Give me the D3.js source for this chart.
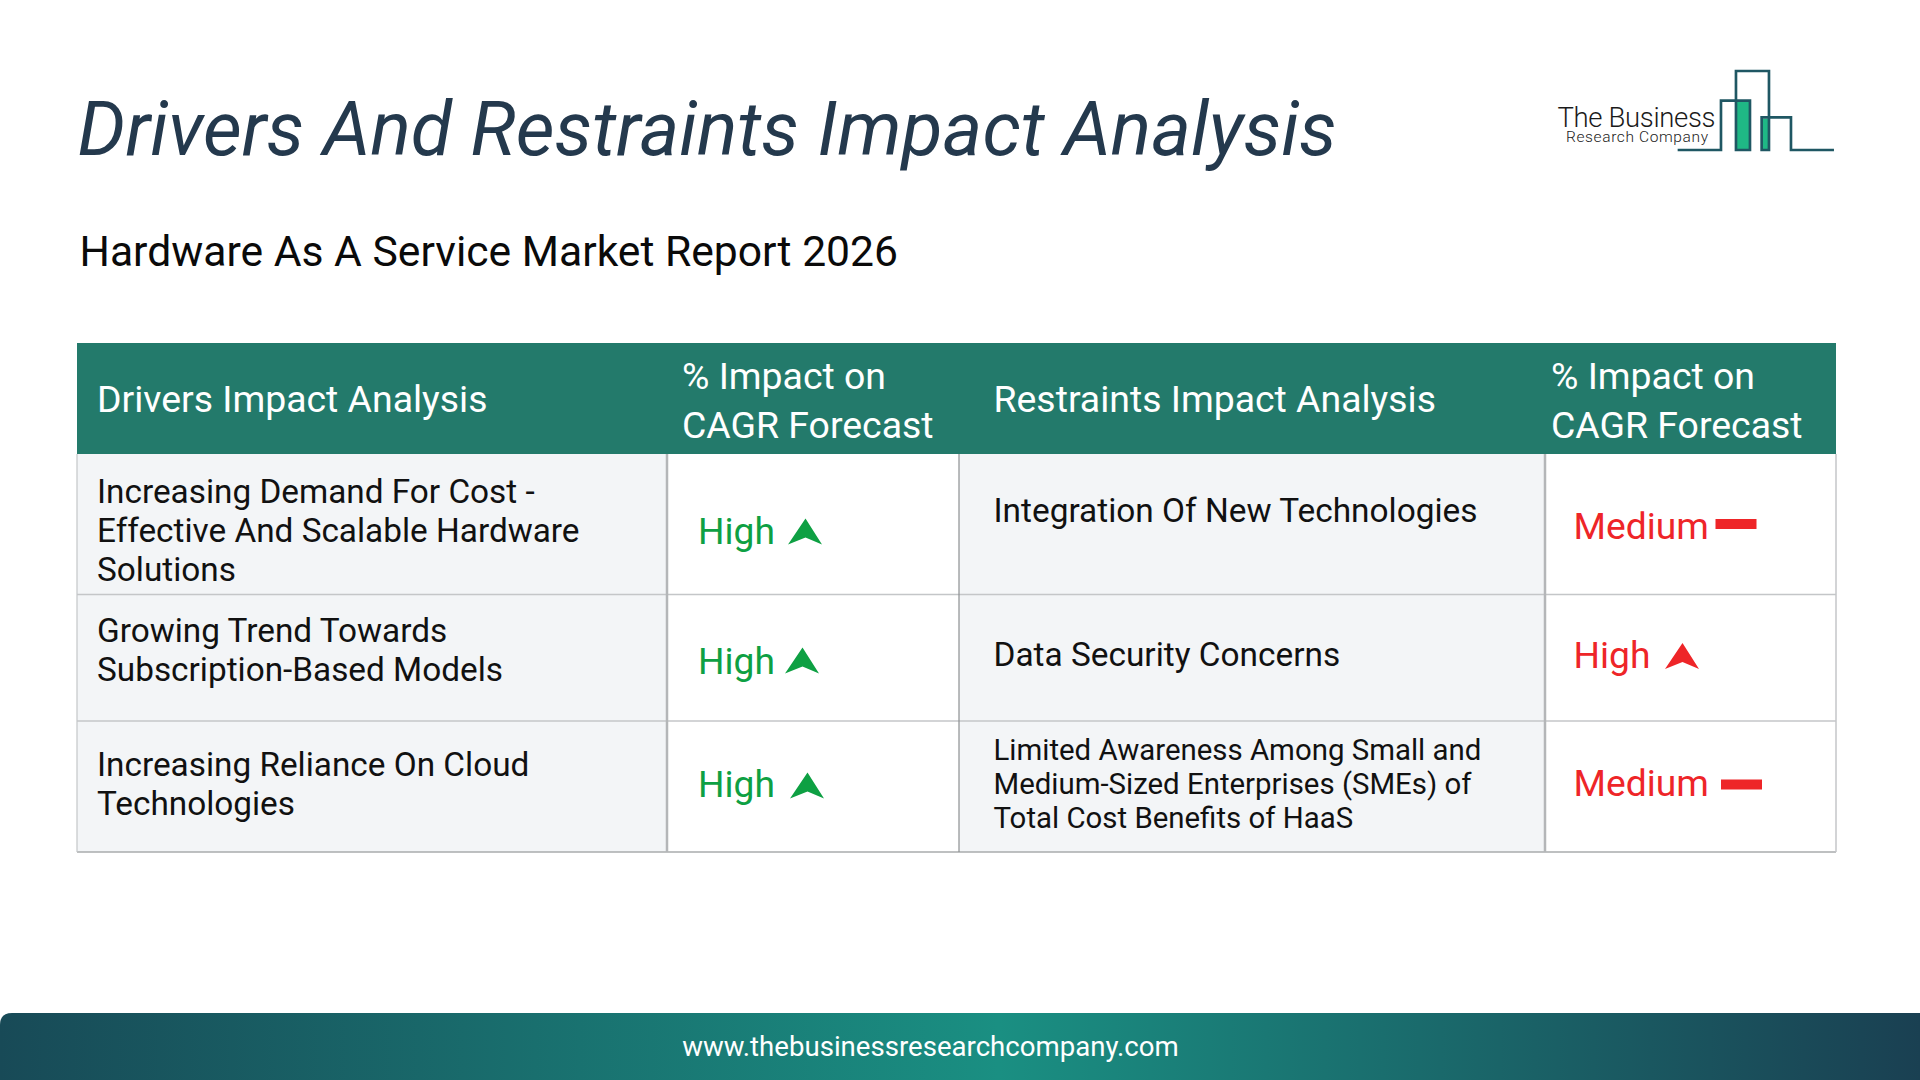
<!DOCTYPE html>
<html>
<head>
<meta charset="utf-8">
<script src="https://cdn.jsdelivr.net/npm/d3@7"></script>
<style>
html,body{margin:0;padding:0;background:#fff;}
svg{display:block;}
text{font-family:Roboto,sans-serif;}
</style>
</head>
<body>
<svg width="1920" height="1080"></svg>
<script>
const titleText = 'Drivers And Restraints Impact Analysis';
const subtitleText = 'Hardware As A Service Market Report 2026';
const footerText = 'www.thebusinessresearchcompany.com';

const headers = ['Drivers Impact Analysis', ['% Impact on', 'CAGR Forecast'], 'Restraints Impact Analysis', ['% Impact on', 'CAGR Forecast']];

const drivers = [
    ['Increasing Demand For Cost -', 'Effective And Scalable Hardware', 'Solutions'],
    ['Growing Trend Towards', 'Subscription-Based Models'],
    ['Increasing Reliance On Cloud', 'Technologies']
];
const driverImpact = ['High', 'High', 'High'];

const restraints = [
    ['Integration Of New Technologies'],
    ['Data Security Concerns'],
    ['Limited Awareness Among Small and', 'Medium-Sized Enterprises (SMEs) of', 'Total Cost Benefits of HaaS']
];
const restraintImpact = ['Medium', 'High', 'Medium'];

function whenLoaded(){

    const svg = d3.select('svg');

    const green = '#0ea043';
    const red = '#ee2528';
    const line = '#c4c6c8';
    const cellBg = '#f3f5f7';

    const colEdges = [77, 667, 959, 1545, 1836];
    const rowEdges = [454, 594.5, 721, 852];
    const headTop = 343;

    // cell edges go through ordinal scales so everything stays on one grid
    const colX = d3.scaleOrdinal().domain([0, 1, 2, 3, 4]).range(colEdges);
    const rowY = d3.scaleOrdinal().domain([0, 1, 2, 3]).range(rowEdges);

    const defs = svg.append('defs');
    const footGrad = defs.append('linearGradient').attr('id', 'foot');
    footGrad.append('stop').attr('offset', '0%').attr('stop-color', '#184a57');
    footGrad.append('stop').attr('offset', '52%').attr('stop-color', '#1a8f82');
    footGrad.append('stop').attr('offset', '100%').attr('stop-color', '#1a4052');

    // title
    svg.append('text')
        .attr('x', 77.5).attr('y', 155)
        .attr('font-size', 75.4).attr('font-style', 'italic').attr('fill', '#24394d')
        .text(titleText);

    svg.append('text')
        .attr('x', 79.5).attr('y', 266)
        .attr('font-size', 42.65).attr('fill', '#0a0a0a')
        .text(subtitleText);

    // logo
    const logo = svg.append('g').attr('transform', 'translate(1500,40) scale(0.3333)');
    logo.append('rect').attr('x', 708).attr('y', 184).attr('width', 44).attr('height', 146).attr('fill', '#1fb885');
    logo.append('rect').attr('x', 787).attr('y', 236).attr('width', 20).attr('height', 94).attr('fill', '#1fb885');
    const logoPts = [[533,330],[663,330],[663,182],[750,182],[750,330],[708,330],[708,93],[807,93],[807,330],[785,330],[785,232],[873,232],[873,330],[1002,330]];
    logo.append('path')
        .attr('d', d3.line()(logoPts))
        .attr('fill', 'none').attr('stroke', '#1f5763').attr('stroke-width', 8);
    svg.append('text').attr('x', 1557.5).attr('y', 127)
        .attr('font-family', 'Lato').attr('font-weight', 300).attr('font-size', 27.5).attr('fill', '#1a1a1a')
        .attr('textLength', 158).text('The Business');
    svg.append('text').attr('x', 1566).attr('y', 142)
        .attr('font-family', 'Lato').attr('font-weight', 300).attr('font-size', 15.5).attr('fill', '#222')
        .attr('textLength', 142).text('Research Company');

    // table cell backgrounds
    [0, 2].forEach(c => {
        svg.append('rect')
            .attr('x', colX(c)).attr('y', rowY(0))
            .attr('width', colX(c + 1) - colX(c)).attr('height', rowY(3) - rowY(0))
            .attr('fill', cellBg);
    });

    // header band
    svg.append('rect')
        .attr('x', colX(0)).attr('y', headTop)
        .attr('width', colX(4) - colX(0)).attr('height', rowY(0) - headTop)
        .attr('fill', '#237a6b');

    // grid
    const grid = svg.append('g').attr('stroke', line).attr('fill', 'none');
    [1, 2].forEach(r => {
        grid.append('line').attr('x1', colX(0)).attr('x2', colX(4)).attr('y1', rowY(r)).attr('y2', rowY(r)).attr('stroke-width', 1.5);
    });
    grid.append('line').attr('x1', colX(0)).attr('x2', colX(4)).attr('y1', rowY(3)).attr('y2', rowY(3)).attr('stroke-width', 1.5).attr('stroke', '#a9abad');
    const vWidths = [1.2, 2.5, 1.2, 2.5, 1.5];
    const vCols = ['#c4c6c8', '#b4b6b8', '#8d8f91', '#b4b6b8', '#c4c6c8'];
    d3.range(5).forEach(c => {
        grid.append('line').attr('x1', colX(c)).attr('x2', colX(c)).attr('y1', rowY(0)).attr('y2', rowY(3))
            .attr('stroke-width', vWidths[c]).attr('stroke', vCols[c]);
    });

    // header text
    const headX = [97, 682, 993.5, 1551];
    headers.forEach((h, i) => {
        if (Array.isArray(h)) {
            h.forEach((t, j) => {
                svg.append('text').attr('x', headX[i]).attr('y', 389 + j * 48.5)
                    .attr('font-size', 37.4).attr('fill', '#fff').text(t);
            });
        } else {
            svg.append('text').attr('x', headX[i]).attr('y', 412)
                .attr('font-size', 37.4).attr('fill', '#fff').text(h);
        }
    });

    // body text
    const driverBase = [503, 642, 776];
    drivers.forEach((d, r) => {
        d.forEach((t, j) => {
            svg.append('text').attr('x', 97).attr('y', driverBase[r] + j * 39)
                .attr('font-size', 33.35).attr('fill', '#111').text(t);
        });
    });
    const restraintBase = [522, 666, 759.5];
    const restraintSize = [33.4, 33.4, 29.4];
    const restraintStep = [39, 39, 34.2];
    restraints.forEach((d, r) => {
        d.forEach((t, j) => {
            svg.append('text').attr('x', 993.5).attr('y', restraintBase[r] + j * restraintStep[r])
                .attr('font-size', restraintSize[r]).attr('fill', '#111').text(t);
        });
    });

    // impact labels
    const arrow = (g, x, y, color) => {
        const pts = [[x, y + 26], [x + 17.5, y], [x + 34, y + 26], [x + 17.5, y + 19]];
        g.append('path').attr('d', d3.line()(pts) + 'Z').attr('fill', color);
    };
    const dash = (g, x, y, color) => {
        g.append('rect').attr('x', x).attr('y', y).attr('width', 41).attr('height', 10).attr('fill', color);
    };
    const marks = svg.append('g');

    const drvBase = [544, 674, 797];
    const drvArrow = [[788, 518.5], [785, 647.5], [790, 772.5]];
    driverImpact.forEach((v, r) => {
        marks.append('text').attr('x', 698).attr('y', drvBase[r]).attr('font-size', 37.2).attr('fill', green).text(v);
        arrow(marks, drvArrow[r][0], drvArrow[r][1], green);
    });

    const resBase = [538.5, 667.5, 796];
    const resMark = [[1715.5, 519], [1665, 643], [1721, 779.5]];
    restraintImpact.forEach((v, r) => {
        marks.append('text').attr('x', 1573.5).attr('y', resBase[r]).attr('font-size', 37.2).attr('fill', red).text(v);
        if (v === 'High') arrow(marks, resMark[r][0], resMark[r][1], red);
        else dash(marks, resMark[r][0], resMark[r][1], red);
    });

    // footer
    svg.append('path')
        .attr('d', 'M0,1025 Q0,1013 12,1013 L1920,1013 L1920,1080 L0,1080 Z')
        .attr('fill', 'url(#foot)');
    svg.append('text').attr('x', 930.5).attr('y', 1056)
        .attr('text-anchor', 'middle').attr('font-size', 27.6).attr('fill', '#fff')
        .text(footerText);
}

window.onload = whenLoaded;
</script>
</body>
</html>
